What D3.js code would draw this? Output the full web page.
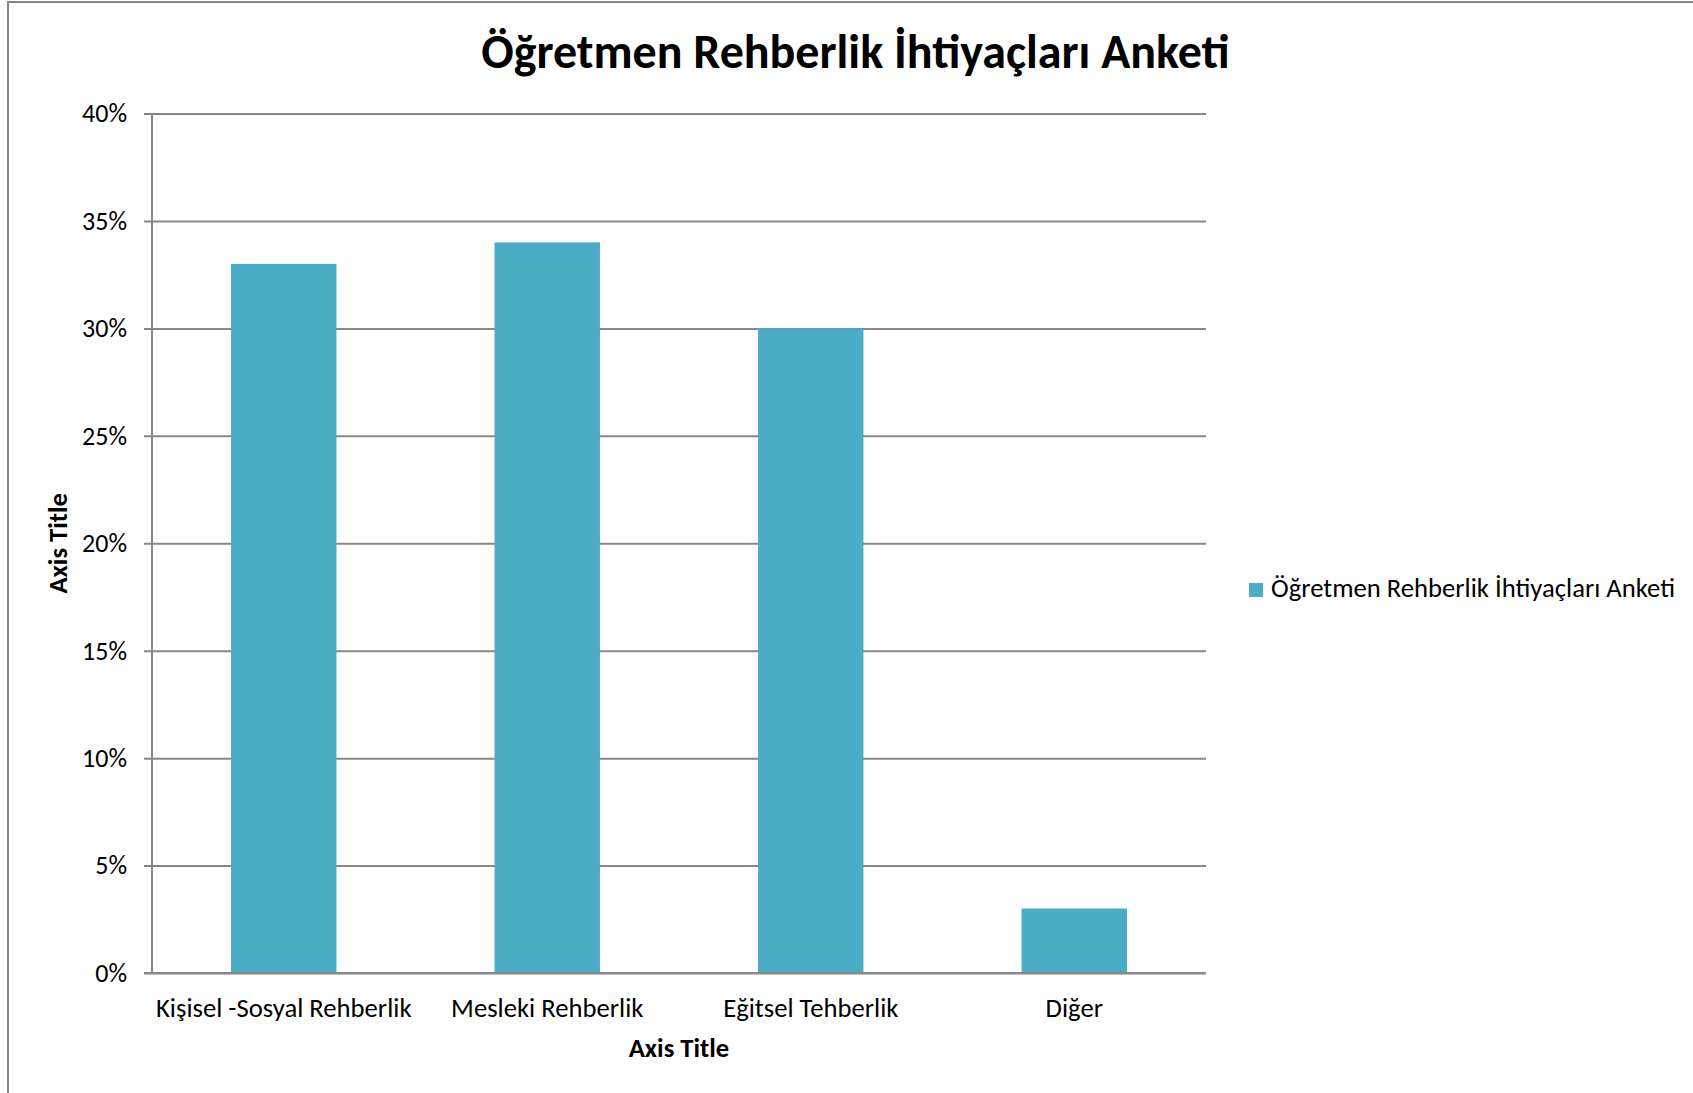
<!DOCTYPE html>
<html lang="tr">
<head>
<meta charset="utf-8">
<script src="https://cdn.jsdelivr.net/npm/d3@7"></script>
<style>
  body { margin: 0; background: #fff; }
  text { font-family: "Carlito", "Open Sans", sans-serif; fill: #000; }
</style>
</head>
<body>
<div id="chart"></div>
<script>
  // chart data
  const chartTitle = "Öğretmen Rehberlik İhtiyaçları Anketi";
  const seriesName = "Öğretmen Rehberlik İhtiyaçları Anketi";
  const categories = ["Kişisel -Sosyal Rehberlik", "Mesleki Rehberlik", "Eğitsel Tehberlik", "Diğer"];
  const values = [0.33, 0.34, 0.30, 0.03];
  const yTicks = [0, 0.05, 0.10, 0.15, 0.20, 0.25, 0.30, 0.35, 0.40];
  const xAxisTitle = "Axis Title";
  const yAxisTitle = "Axis Title";

  const w = 1693, h = 1093;
  const plotLeft = 152, plotRight = 1206, plotTop = 113.5, plotBottom = 973;
  const barColor = "#4bacc6";
  const gridColor = "#878787";
  const labelSize = "26.67px";

  const svg = d3.select("#chart").append("svg")
    .attr("width", w)
    .attr("height", h);

  // chart area border
  svg.append("rect")
    .attr("x", 8).attr("y", 2)
    .attr("width", w).attr("height", h)
    .attr("fill", "#fff")
    .attr("stroke", gridColor)
    .attr("stroke-width", 2);

  const xScale = d3.scaleBand()
    .domain(categories)
    .range([plotLeft, plotRight])
    .paddingInner(0.6)
    .paddingOuter(0.3);

  const yScale = d3.scaleLinear()
    .domain([0, 0.4])
    .range([plotBottom, plotTop]);

  // y axis + gridlines
  const yAxis = d3.axisLeft(yScale)
    .tickValues(yTicks)
    .tickFormat(d3.format(".0%"))
    .tickSize(-(plotRight - plotLeft))
    .tickPadding(25);

  const gy = svg.append("g")
    .attr("transform", "translate(" + plotLeft + ",0)")
    .call(yAxis);
  gy.select(".domain").remove();
  gy.selectAll(".tick line")
    .attr("x1", -8)
    .attr("stroke", gridColor)
    .attr("stroke-width", 2);
  gy.selectAll(".tick text")
    .style("font-size", "26px");

  svg.append("line")
    .attr("x1", plotLeft).attr("x2", plotLeft)
    .attr("y1", plotTop).attr("y2", plotBottom)
    .attr("stroke", gridColor)
    .attr("stroke-width", 2);

  // bars
  svg.selectAll("rect.bar")
    .data(values)
    .enter()
    .append("rect")
    .attr("class", "bar")
    .attr("x", (d, i) => xScale(categories[i]))
    .attr("y", d => yScale(d))
    .attr("width", xScale.bandwidth())
    .attr("height", d => yScale(0) - yScale(d))
    .attr("fill", barColor);

  // x axis labels
  const xAxis = d3.axisBottom(xScale)
    .tickSize(0)
    .tickPadding(25);
  const gx = svg.append("g")
    .attr("transform", "translate(0," + plotBottom + ")")
    .call(xAxis);
  gx.select(".domain").remove();
  gx.selectAll(".tick text")
    .style("font-size", labelSize);

  // redraw baseline on top of bars
  svg.append("line")
    .attr("x1", plotLeft - 8).attr("x2", plotRight)
    .attr("y1", plotBottom).attr("y2", plotBottom)
    .attr("stroke", gridColor)
    .attr("stroke-width", 2);

  // title
  svg.append("text")
    .attr("x", 855.5)
    .attr("y", 68)
    .attr("text-anchor", "middle")
    .style("font-size", "48px")
    .style("font-weight", "bold")
    .text(chartTitle);

  // axis titles
  svg.append("text")
    .attr("x", (plotLeft + plotRight) / 2)
    .attr("y", 1057)
    .attr("text-anchor", "middle")
    .style("font-size", labelSize)
    .style("font-weight", "bold")
    .text(xAxisTitle);

  svg.append("text")
    .attr("transform", "translate(67," + (plotTop + plotBottom) / 2 + ") rotate(-90)")
    .attr("text-anchor", "middle")
    .style("font-size", labelSize)
    .style("font-weight", "bold")
    .text(yAxisTitle);

  // legend
  const legend = svg.append("g")
    .attr("transform", "translate(1249,583)");
  legend.append("rect")
    .attr("width", 14).attr("height", 14)
    .attr("fill", barColor);
  legend.append("text")
    .attr("x", 22).attr("y", 14)
    .style("font-size", labelSize)
    .text(seriesName);
</script>
</body>
</html>
